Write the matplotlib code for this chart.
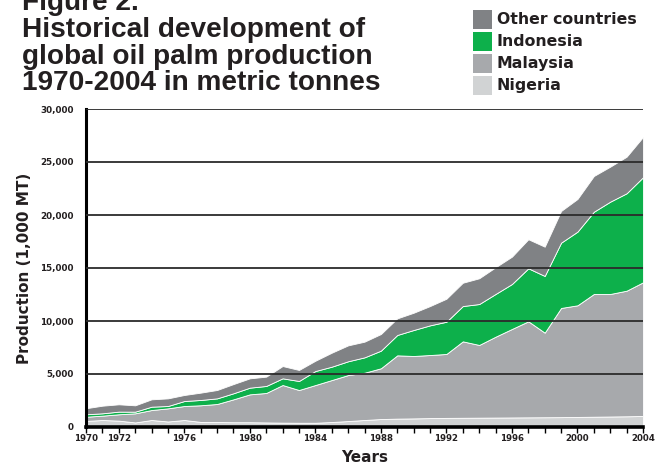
import numpy as np
import matplotlib
matplotlib.use('Agg')
import matplotlib.pyplot as plt
from matplotlib.patches import Rectangle
from matplotlib.ticker import FuncFormatter

years = list(range(1970, 2005))

# production in 1,000 MT
nigeria = [570, 660, 600, 430, 660, 520, 660, 480, 470, 450,
           450, 430, 410, 400, 400, 470, 560, 660, 750, 790,
           810, 840, 860, 870, 880, 890, 900, 910, 920, 930,
           950, 970, 990, 1010, 1040]
malaysia = [400, 410, 600, 860, 940, 1240, 1320, 1570, 1700, 2160,
            2630, 2780, 3550, 3090, 3560, 3960, 4340, 4460, 4790, 5970,
            5890, 5950, 6030, 7210, 6860, 7630, 8350, 9060, 7980, 10300,
            10530, 11580, 11560, 11850, 12610]
indonesia = [230, 220, 250, 155, 315, 220, 470, 500, 530, 570,
             630, 660, 630, 850, 1320, 1260, 1300, 1450, 1660, 1920,
             2450, 2800, 3040, 3330, 3860, 4030, 4240, 5000, 5350, 6160,
             6950, 7760, 8710, 9190, 9910]
other = [570, 720, 690, 600, 695, 720, 570, 690, 790, 870,
         880, 880, 1160, 1040, 970, 1320, 1500, 1480, 1570, 1570,
         1630, 1820, 2170, 2200, 2430, 2520, 2580, 2740, 2760, 2990,
         3080, 3370, 3300, 3450, 3800]

labels = ['Nigeria', 'Malaysia', 'Indonesia', 'Other countries']
colors = ['#d1d3d4', '#a7a9ac', '#0db04b', '#808285']

title_lines = ['Figure 2.', 'Historical development of',
               'global oil palm production', '1970-2004 in metric tonnes']
xtick_labels = [1970, 1972, 1976, 1980, 1984, 1988, 1992, 1996, 2000, 2004]

FONT = 'DejaVu Sans'
INK = '#231f20'

W, H = 663, 466
fig = plt.figure(figsize=(W / 100, H / 100), dpi=100)
ax = fig.add_axes([86 / W, 1 - 427 / H, (643 - 86) / W, (427 - 109) / H])

ax.stackplot(years, nigeria, malaysia, indonesia, other, colors=colors,
             edgecolor='white', linewidth=0.6)

ax.set_xlim(1970, 2004)
ax.set_ylim(0, 30000)
ax.set_yticks(np.arange(0, 30001, 5000))
ax.yaxis.set_major_formatter(FuncFormatter(lambda v, p: f'{int(v):,}'))
ax.set_xticks(xtick_labels)
ax.set_xticks(years, minor=True)
ax.set_axisbelow(False)
ax.grid(axis='y', color='#2b2b2b', linewidth=1.3)

for s in ['top', 'right']:
    ax.spines[s].set_visible(False)
ax.spines['left'].set_linewidth(2.2)
ax.spines['bottom'].set_linewidth(2.6)
ax.spines['bottom'].set_zorder(3)
ax.tick_params(axis='y', length=0, pad=9, labelsize=6.3)
ax.tick_params(axis='x', which='both', length=4, width=1, direction='out',
               labelsize=6.2, pad=1)
for t in ax.get_xticklabels() + ax.get_yticklabels():
    t.set_fontweight('bold')
    t.set_family(FONT)
    t.set_color(INK)

ax.set_ylabel('Production (1,000 MT)', fontsize=11, fontweight='bold',
              family=FONT, color=INK, labelpad=6)
ax.set_xlabel('Years', fontsize=11, fontweight='bold',
              family=FONT, color=INK, labelpad=5)

# title block
baselines = [9.5, 36.7, 63.5, 90.3]
for txt, b in zip(title_lines, baselines):
    fig.text(22 / W, 1 - b / H, txt, fontsize=20.2, fontweight='bold',
             family='Liberation Sans', color=INK, va='baseline')

# legend, top right
rows = list(zip(labels, colors))[::-1]
for i, (lab, col) in enumerate(rows):
    top = 10 + i * 22
    fig.patches.append(Rectangle((473 / W, 1 - (top + 19) / H), 19 / W, 19 / H,
                                 transform=fig.transFigure, facecolor=col,
                                 edgecolor='none'))
    fig.text(497 / W, 1 - (top + 9.5) / H, lab, fontsize=11.3, fontweight='bold',
             family=FONT, color=INK, va='center')

fig.savefig('out.png', dpi=100)
